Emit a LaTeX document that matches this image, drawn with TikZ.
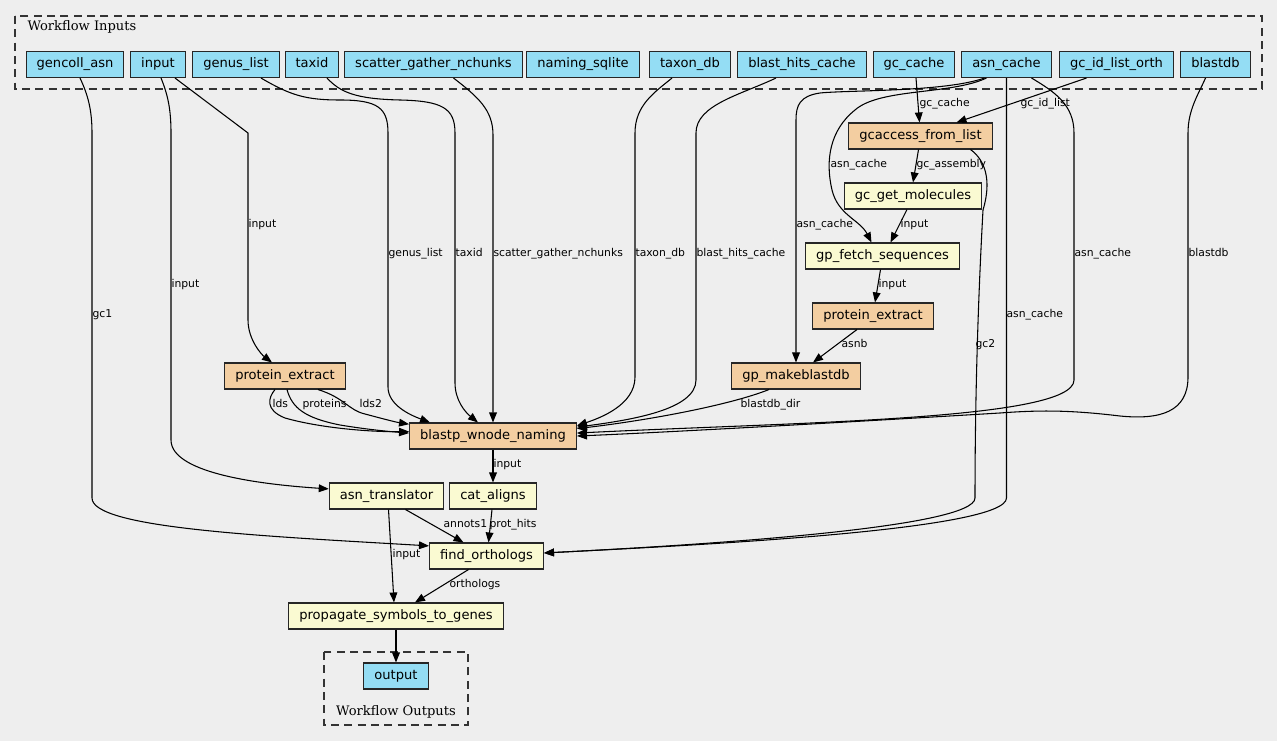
\documentclass[tikz,border=0pt]{standalone}
\usepackage{fontspec}
\setmainfont{DejaVu Serif}
\setsansfont{DejaVu Sans}
\usetikzlibrary{arrows.meta,calc}
\definecolor{bgcol}{HTML}{EEEEEE}
\definecolor{incol}{HTML}{94DDF4}
\definecolor{stepcol}{HTML}{FAFAD2}
\definecolor{subcol}{HTML}{F3CEA1}
\tikzset{
  box/.style={draw=black!85, line width=0.8pt, minimum height=19.5pt, inner xsep=7.9pt, inner ysep=0pt,
    text height=7.3pt, text depth=2.2pt, font=\sffamily\fontsize{9.8}{11}\selectfont},
  wfin/.style={box, fill=incol},
  wfstep/.style={box, fill=stepcol},
  wfsub/.style={box, fill=subcol},
  elab/.style={anchor=west, inner sep=0pt, text height=6pt, text depth=1.7pt,
    font=\sffamily\fontsize{8.1}{9}\selectfont},
  cluster/.style={draw=black!80, line width=0.9pt, dash pattern=on 6pt off 4pt},
  clab/.style={inner sep=0pt, font=\rmfamily\fontsize{9.8}{11}\selectfont},
}
\begin{document}
\begin{tikzpicture}[x=0.75pt,y=-0.75pt,line width=0.8pt,>={Triangle[length=7.5pt,width=5.8pt]}]
\fill[bgcol] (0,0) rectangle (1277,741);
\useasboundingbox (0,0) rectangle (1277,741);
% clusters
\draw[cluster] (15,16) rectangle (1262,89);
\node[clab,anchor=west] (inlab) at (27,27) {Workflow Inputs};
\draw[cluster] (324,652) rectangle (468,725);
\node[clab] (outlab) at (396,712) {Workflow Outputs};
% inputs
\node[wfin] (gencoll) at (75,64.5) {gencoll\_asn};
\node[wfin] (inp) at (158,64.5) {input};
\node[wfin] (genus) at (236,64.5) {genus\_list};
\node[wfin] (taxid) at (312,64.5) {taxid};
\node[wfin] (sgn) at (433.5,64.5) {scatter\_gather\_nchunks};
\node[wfin] (naming) at (583,64.5) {naming\_sqlite};
\node[wfin] (taxondb) at (690,64.5) {taxon\_db};
\node[wfin] (bhc) at (802,64.5) {blast\_hits\_cache};
\node[wfin] (gccache) at (914,64.5) {gc\_cache};
\node[wfin] (asncache) at (1006.5,64.5) {asn\_cache};
\node[wfin] (gcidl) at (1116.5,64.5) {gc\_id\_list\_orth};
\node[wfin] (blastdb) at (1215.5,64.5) {blastdb};
% steps
\node[wfsub] (gcacc) at (920.5,136) {gcaccess\_from\_list};
\node[wfstep] (gcmol) at (913,196) {gc\_get\_molecules};
\node[wfstep] (gpfetch) at (882.5,256) {gp\_fetch\_sequences};
\node[wfsub] (pext2) at (873,316) {protein\_extract};
\node[wfsub] (gpmkdb) at (796,376) {gp\_makeblastdb};
\node[wfsub] (pext1) at (285,376) {protein\_extract};
\node[wfsub] (blastp) at (493,436) {blastp\_wnode\_naming};
\node[wfstep] (asntr) at (386.5,496) {asn\_translator};
\node[wfstep] (cat) at (493,496) {cat\_aligns};
\node[wfstep] (findorth) at (486.5,556) {find\_orthologs};
\node[wfstep] (prop) at (396,616) {propagate\_symbols\_to\_genes};
\node[wfin] (out) at (396,676) {output};
% edges from the inputs
\draw[->] ($(gencoll.south)+(5,0)$) .. controls (88,95) and (92,110) .. (92,133) -- (92,498)
  .. controls (92,528) and (260,536) .. (findorth.170) node[elab] at (92,315) {gc1};
\draw[->] ($(inp.south)+(3,0)$) .. controls (168,95) and (171,110) .. (171,133) -- (171,440)
  .. controls (171,475) and (270,485) .. (asntr.173) node[elab] at (171,285) {input};
\draw[->] ($(inp.south)+(17,0)$) -- (248,133) -- (248,320)
  .. controls (248,340) and (262,355) .. ($(pext1.north)+(-13,0)$) node[elab] at (248,225) {input};
\draw[->] ($(genus.south)+(25,0)$) .. controls (290,95) and (305,100) .. (340,100)
  .. controls (378,100) and (388,108) .. (388,133) -- (388,387)
  .. controls (388,405) and (410,415) .. ($(blastp.north)+(-63,0)$) node[elab] at (388,254) {genus\_list};
\draw[->] ($(taxid.south)+(15,0)$) .. controls (340,92) and (355,99) .. (400,100)
  .. controls (442,101) and (455,108) .. (455,133) -- (455,383)
  .. controls (455,400) and (465,412) .. ($(blastp.north)+(-15,0)$) node[elab] at (455,254) {taxid};
\draw[->] ($(sgn.south)+(20,0)$) .. controls (478,97) and (493,110) .. (493,135) -- (blastp.north)
  node[elab] at (493,254) {scatter\_gather\_nchunks};
\draw[->] ($(taxondb.south)+(-18,0)$) .. controls (655,92) and (635,105) .. (635,133) -- (635,377)
  .. controls (635,405) and (600,418) .. (blastp.7) node[elab] at (635,254) {taxon\_db};
\draw[->] ($(bhc.south)+(-26,0)$) .. controls (740,95) and (696,105) .. (696,133) -- (696,380)
  .. controls (696,410) and (630,420) .. (blastp.6) node[elab] at (696,254) {blast\_hits\_cache};
\draw[->] ($(gccache.south)+(2,0)$) -- ($(gcacc.north)+(-1,0)$) node[elab] at (919,104) {gc\_cache};
\draw[->] ($(gcidl.south)+(-30,0)$) -- ($(gcacc.north)+(36,0)$) node[elab] at (1020,104) {gc\_id\_list};
\draw[->] ($(asncache.south)+(-20,0)$) .. controls (950,95) and (880,88) .. (855,110)
  .. controls (830,130) and (825,160) .. (832,190)
  .. controls (838,215) and (860,220) .. ($(gpfetch.north)+(-11,0)$) node[elab] at (830,165) {asn\_cache};
\draw[->] ($(asncache.south)+(-22,0)$) .. controls (945,92) and (850,90) .. (820,93)
  .. controls (800,96) and (796,105) .. (796,120) -- (gpmkdb.north) node[elab] at (796,225) {asn\_cache};
\draw[->] ($(asncache.south)+(25,0)$) .. controls (1055,92) and (1074,105) .. (1074,133) -- (1074,380)
  .. controls (1074,420) and (800,422) .. (blastp.2) node[elab] at (1074,254) {asn\_cache};
\draw[->] (asncache.south) -- (1006.5,498) .. controls (1006.5,530) and (700,545) .. (findorth.3)
  node[elab] at (1006,315) {asn\_cache};
\draw[->] ($(blastdb.south)+(-10,0)$) .. controls (1198,95) and (1188,110) .. (1188,133) -- (1188,377)
  .. controls (1188,412) and (1160,420) .. (1120,416) .. controls (1070,410) and (1040,410) .. (1000,413)
  .. controls (800,425) and (650,433) .. (blastp.east) node[elab] at (1188,254) {blastdb};
% edges between the steps
\draw[->] ($(gcacc.south)+(-2,0)$) -- (gcmol.north) node[elab] at (916,165) {gc\_assembly};
\draw[->] ($(gcacc.south)+(50,0)$) .. controls (985,160) and (992,180) .. (983,210)
  .. controls (978,300) and (975,400) .. (975,498)
  .. controls (975,528) and (700,545) .. (findorth.3) node[elab] at (975,345) {gc2};
\draw[->] ($(gcmol.south)+(-6,0)$) -- ($(gpfetch.north)+(8,0)$) node[elab] at (900,225) {input};
\draw[->] ($(gpfetch.south)+(-2,0)$) -- ($(pext2.north)+(2,0)$) node[elab] at (878,285) {input};
\draw[->] ($(pext2.south)+(-16,0)$) -- ($(gpmkdb.north)+(17,0)$) node[elab] at (841,345) {asnb};
\draw[->] ($(gpmkdb.south)+(-27,0)$) .. controls (730,405) and (650,420) .. (blastp.5)
  node[elab] at (740,405) {blastdb\_dir};
\draw[->] ($(pext1.south)+(-10,0)$) .. controls (268,398) and (265,410) .. (285,418)
  .. controls (320,428) and (370,432) .. (blastp.177) node[elab] at (272,405) {lds};
\draw[->] ($(pext1.south)+(2,0)$) .. controls (292,408) and (305,418) .. (340,425)
  .. controls (370,430) and (395,432) .. (blastp.178) node[elab] at (302,405) {proteins};
\draw[->] ($(pext1.south)+(33,0)$) .. controls (345,398) and (348,410) .. (365,414)
  .. controls (380,418) and (395,422) .. (blastp.172) node[elab] at (359,405) {lds2};
\draw[->] (blastp.south) -- (cat.north) node[elab] at (493,465) {input};
\draw[->] ($(asntr.south)+(19,0)$) -- ($(findorth.north)+(-23,0)$) node[elab] at (443,525) {annots1};
\draw[->] ($(cat.south)+(-1,0)$) -- ($(findorth.north)+(2,0)$) node[elab] at (489,525) {prot\_hits};
\draw[->] ($(asntr.south)+(2,0)$) -- ($(prop.north)+(-2,0)$) node[elab] at (392,555) {input};
\draw[->] ($(findorth.south)+(-18,0)$) -- ($(prop.north)+(19,0)$) node[elab] at (449,585) {orthologs};
\draw[->] (prop.south) -- (out.north);
\end{tikzpicture}
\end{document}
